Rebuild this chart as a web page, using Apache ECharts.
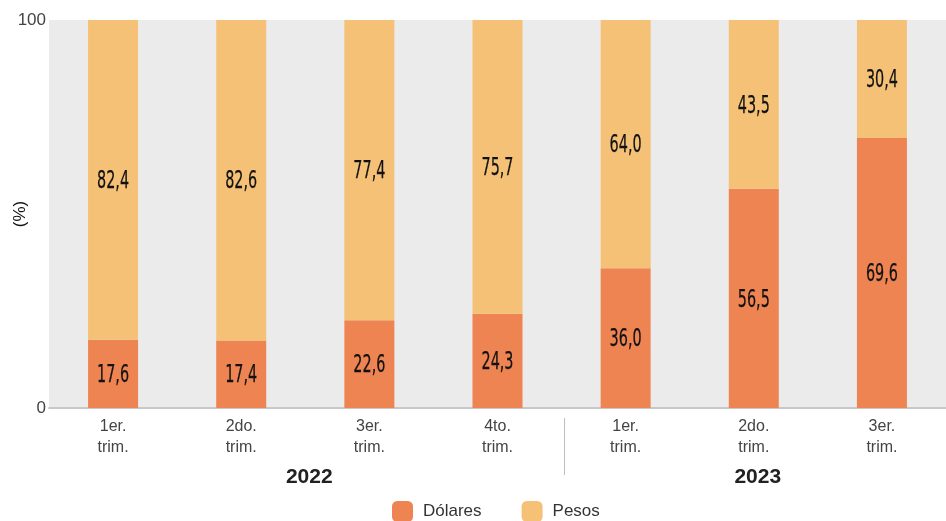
<!DOCTYPE html>
<html><head><meta charset="utf-8">
<script src="https://cdn.jsdelivr.net/npm/echarts@6/dist/echarts.min.js"></script>
<style>html,body{margin:0;padding:0;background:#fff}#c{width:946px;height:521px}</style>
</head><body><div id="c"></div>
<script>
const categories = ['1er.\ntrim.','2do.\ntrim.','3er.\ntrim.','4to.\ntrim.','1er.\ntrim.','2do.\ntrim.','3er.\ntrim.'];
const years = ['2022','2023'];
const yearSpans = [[0,3],[4,6]];
const dolares = [17.6,17.4,22.6,24.3,36.0,56.5,69.6];
const pesos = [82.4,82.6,77.4,75.7,64.0,43.5,30.4];
const yTicks = [0,100];

const fmt = v => v.toFixed(1).replace('.',',');
const labelData = [];
dolares.forEach((d,i)=>{
  labelData.push([i, d/2, fmt(d)]);
  labelData.push([i, d + pesos[i]/2, fmt(pesos[i])]);
});

const chart = echarts.init(document.getElementById('c'));
const FF = '"Liberation Sans",Arial,sans-serif';
chart.setOption({
  animation:false,
  grid:{left:49,right:0,top:20,bottom:113,show:true,backgroundColor:'#ebebeb',borderWidth:0,containLabel:false,outerBoundsMode:'none'},
  legend:{top:496,left:387,itemWidth:21,itemHeight:21,itemGap:40,icon:'roundRect',
    textStyle:{fontSize:17,color:'#333',fontFamily:FF,padding:[0,0,0,5]},
    data:['Dólares','Pesos']},
  xAxis:{type:'category',data:categories,
    axisLine:{lineStyle:{color:'#c8c8c8',width:2}},axisTick:{show:false},
    axisLabel:{color:'#444',fontSize:16,lineHeight:21,margin:8,fontFamily:FF}},
  yAxis:{type:'value',min:0,max:100,interval:100,
    name:'(%)',nameLocation:'middle',nameGap:20,nameRotate:90,nameMoveOverlap:false,
    nameTextStyle:{color:'#111',fontSize:17,fontFamily:FF},
    splitLine:{show:false},axisLine:{show:false},axisTick:{show:false},
    axisLabel:{color:'#444',fontSize:17,margin:3,fontFamily:FF,
      formatter:v=>yTicks.includes(v)?String(v):''}},
  series:[
    {name:'Dólares',type:'bar',stack:'a',data:dolares,barWidth:50,itemStyle:{color:'#ee8452'}},
    {name:'Pesos',type:'bar',stack:'a',data:pesos,barWidth:50,itemStyle:{color:'#f5c177'}},
    {type:'custom',data:labelData,z:10,silent:true,
      renderItem:(params,api)=>{
        const p = api.coord([api.value(0), api.value(1)]);
        return {type:'text',x:p[0],y:p[1]+2,scaleX:0.6,
          style:{text:labelData[params.dataIndex][2],fill:'#111',stroke:'#111',lineWidth:0.25,
            font:'24px "DejaVu Sans",sans-serif',align:'center',verticalAlign:'middle'}};
      }}
  ]
});
const gr=[];
yearSpans.forEach((s,i)=>{
  const x0=chart.convertToPixel({xAxisIndex:0},s[0]);
  const x1=chart.convertToPixel({xAxisIndex:0},s[1]);
  gr.push({type:'text',x:(x0+x1)/2+4,y:477,style:{text:years[i],fill:'#222',font:'bold 21px "Liberation Sans",Arial,sans-serif',align:'center',verticalAlign:'middle'}});
});
const xa=chart.convertToPixel({xAxisIndex:0},3), xb=chart.convertToPixel({xAxisIndex:0},4);
const sx=(xa+xb)/2+3;
gr.push({type:'line',shape:{x1:sx,y1:418,x2:sx,y2:475},style:{stroke:'#bbb',lineWidth:1}});
chart.setOption({graphic:gr});
</script></body></html>
